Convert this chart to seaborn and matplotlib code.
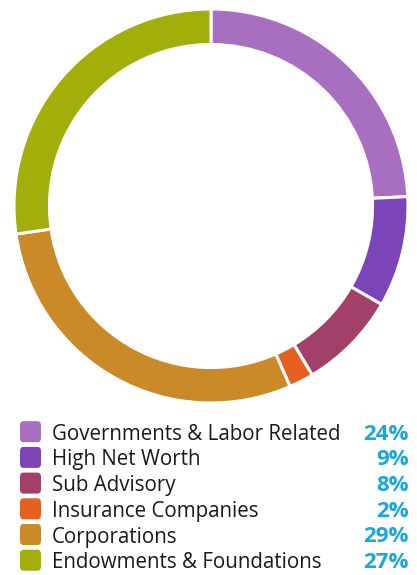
import matplotlib
matplotlib.use("Agg")
import matplotlib.pyplot as plt
import seaborn as sns
from matplotlib.patches import FancyBboxPatch

sns.set_theme(style="white")
plt.rcParams['font.family'] = ['Open Sans', 'DejaVu Sans']

categories = ["Governments & Labor Related", "High Net Worth", "Sub Advisory",
              "Insurance Companies", "Corporations", "Endowments & Foundations"]
values = [24, 9, 8, 2, 29, 27]
labels = ["24%", "9%", "8%", "2%", "29%", "27%"]
colors = ["#A86FC1", "#7B45B8", "#A3406A", "#E5601F", "#C98A27", "#A2AE0A"]

W, H = 417, 575
fig = plt.figure(figsize=(W / 100, H / 100), dpi=100)
cx, cy, r = 211, 206, 197
ax = fig.add_axes([(cx - r) / W, (H - cy - r) / H, 2 * r / W, 2 * r / H])
ax.pie(values, colors=colors, startangle=90, counterclock=False,
       wedgeprops=dict(width=0.18, edgecolor="white", linewidth=2.2))
ax.set_xlim(-1, 1)
ax.set_ylim(-1, 1)
ax.set_aspect("equal")
ax.axis("off")

row0, step = 431.7, 25.7
for i, (cat, lab, col) in enumerate(zip(categories, labels, colors)):
    y = row0 + i * step
    sq = FancyBboxPatch(((20) / W, (H - y - 10.5) / H), 21 / W, 21 / H,
                        boxstyle="round,pad=0,rounding_size=0.008",
                        transform=fig.transFigure, facecolor=col, edgecolor="none")
    fig.patches.append(sq)
    fig.text(52 / W, (H - y) / H, cat, fontsize=14.8, color="#1a1a1a",
             va="center_baseline", ha="left")
    fig.text(409 / W, (H - y) / H, lab, fontsize=16, color="#1AA7E0",
             va="center_baseline", ha="right", fontweight="bold")

fig.savefig("out.png", dpi=100)
